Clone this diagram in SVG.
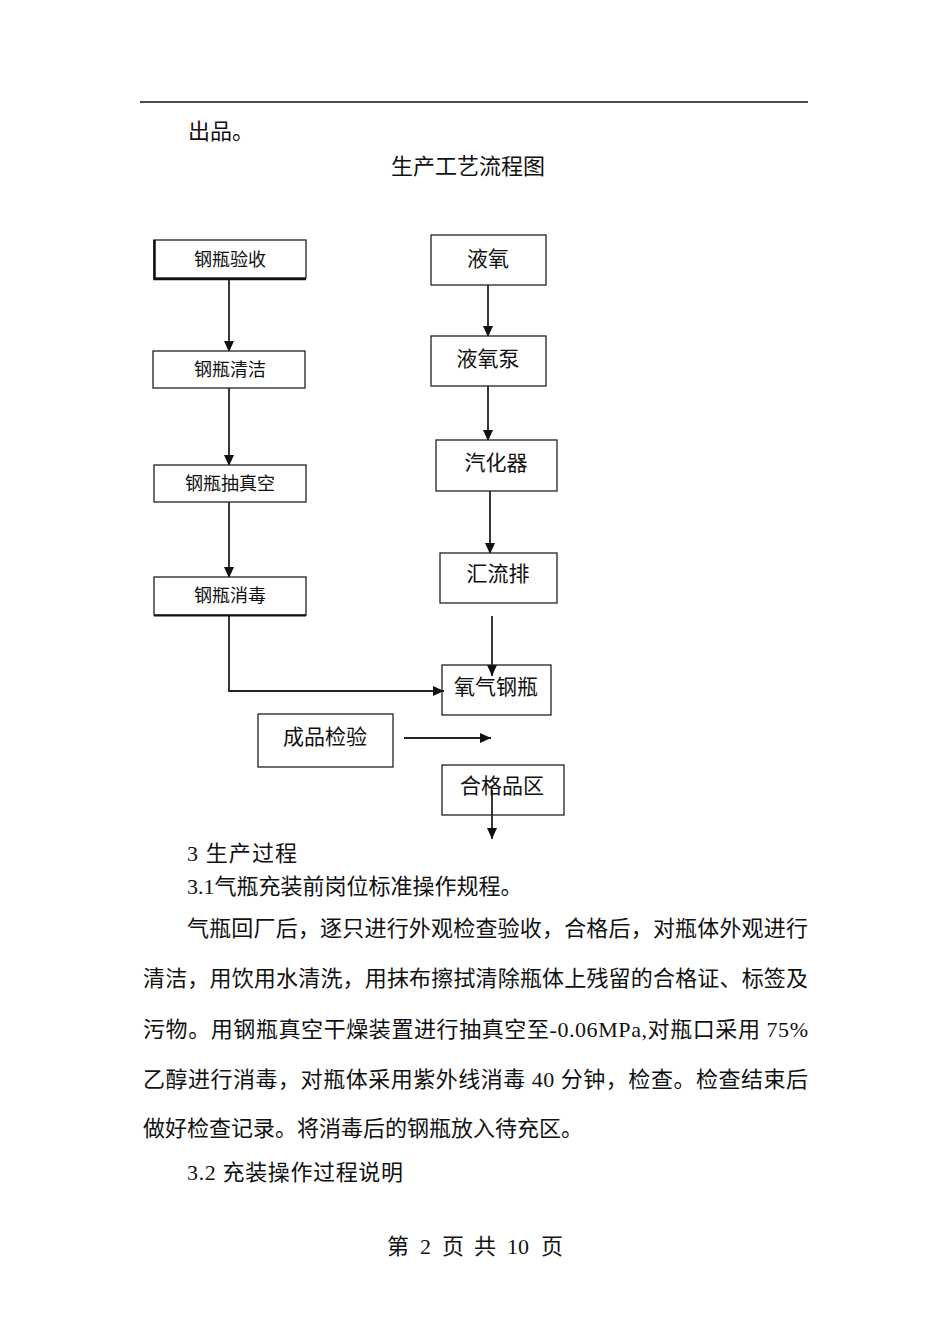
<svg xmlns="http://www.w3.org/2000/svg" width="950" height="1344" viewBox="0 0 950 1344">
<style>
.t{font-family:"Liberation Serif","Noto Sans CJK SC",serif;fill:#111;}
.body{font-size:22px;}
.bx{fill:#fff;stroke:#222;stroke-width:1.3;}
.lb{font-size:18px;text-anchor:middle;}
.rb{font-size:21px;text-anchor:middle;}
.cn{fill:none;stroke:#222;stroke-width:1.8;}
</style>
<defs>
<marker id="arr" markerUnits="userSpaceOnUse" markerWidth="11" markerHeight="12" refX="11" refY="5" orient="auto">
<path d="M0,0 L11,5 L0,10 Z" fill="#111"/>
</marker>
</defs>
<rect x="0" y="0" width="950" height="1344" fill="#fff"/>
<line x1="140" y1="102" x2="808" y2="102" stroke="#111" stroke-width="1.5"/>
<text class="t body" x="188" y="139">出品。</text>
<text class="t body" x="468" y="174" text-anchor="middle">生产工艺流程图</text>

<g id="connectors">
<path class="cn" d="M229,279 V352" marker-end="url(#arr)"/>
<path class="cn" d="M229,388 V466" marker-end="url(#arr)"/>
<path class="cn" d="M229,502 V578" marker-end="url(#arr)"/>
<path class="cn" d="M229,616 V691 H444" marker-end="url(#arr)"/>
<path class="cn" d="M488,285 V337" marker-end="url(#arr)"/>
<path class="cn" d="M488,386 V441" marker-end="url(#arr)"/>
<path class="cn" d="M490,491 V554" marker-end="url(#arr)"/>
<path class="cn" d="M492,616 V676" marker-end="url(#arr)"/>
<path class="cn" d="M404,738 H491" marker-end="url(#arr)"/>
<path class="cn" d="M492,790 V839" marker-end="url(#arr)"/>
</g>

<g id="n1">
<rect class="bx" x="154" y="240" width="152" height="38"/>
<path d="M154.5,240 V279 H306" fill="none" stroke="#111" stroke-width="2.5"/>
<text class="t lb" x="230" y="266">钢瓶验收</text>
</g>
<g id="n2">
<rect class="bx" x="153" y="351" width="152" height="37"/>
<text class="t lb" x="230" y="376">钢瓶清洁</text>
</g>
<g id="n3">
<rect class="bx" x="154" y="465" width="152" height="37"/>
<text class="t lb" x="230" y="490">钢瓶抽真空</text>
</g>
<g id="n4">
<rect class="bx" x="154" y="577" width="152" height="38"/>
<path d="M154,615.5 H306" fill="none" stroke="#111" stroke-width="2"/>
<text class="t lb" x="230" y="602">钢瓶消毒</text>
</g>
<g id="n5">
<rect class="bx" x="431" y="235" width="115" height="50"/>
<text class="t rb" x="488" y="266">液氧</text>
</g>
<g id="n6">
<rect class="bx" x="431" y="336" width="115" height="50"/>
<text class="t rb" x="488" y="366">液氧泵</text>
</g>
<g id="n7">
<rect class="bx" x="436" y="440" width="121" height="51"/>
<text class="t rb" x="496" y="470">汽化器</text>
</g>
<g id="n8">
<rect class="bx" x="440" y="553" width="117" height="50"/>
<text class="t rb" x="498" y="581">汇流排</text>
</g>
<g id="n9">
<rect class="bx" x="442" y="665" width="109" height="50" style="fill:none"/>
<text class="t rb" x="496" y="694">氧气钢瓶</text>
</g>
<g id="n10">
<rect class="bx" x="258" y="714" width="135" height="53"/>
<text class="t rb" x="325" y="744">成品检验</text>
</g>
<g id="n11">
<rect class="bx" x="442" y="765" width="122" height="50" style="fill:none"/>
<text class="t rb" x="502" y="793">合格品区</text>
</g>

<text class="t body" x="187" y="861" textLength="110" lengthAdjust="spacing">3 生产过程</text>
<text class="t body" x="187" y="894">3.1气瓶充装前岗位标准操作规程。</text>
<text class="t body" x="187" y="936" textLength="621" lengthAdjust="spacing">气瓶回厂后，逐只进行外观检查验收，合格后，对瓶体外观进行</text>
<text class="t body" x="143" y="986" textLength="665" lengthAdjust="spacing">清洁，用饮用水清洗，用抹布擦拭清除瓶体上残留的合格证、标签及</text>
<text class="t body" x="143" y="1037" textLength="665" lengthAdjust="spacing">污物。用钢瓶真空干燥装置进行抽真空至-0.06MPa,对瓶口采用 75%</text>
<text class="t body" x="143" y="1087" textLength="665" lengthAdjust="spacing">乙醇进行消毒，对瓶体采用紫外线消毒 40 分钟，检查。检查结束后</text>
<text class="t body" x="143" y="1136">做好检查记录。将消毒后的钢瓶放入待充区。</text>
<text class="t body" x="187" y="1180" textLength="216" lengthAdjust="spacing">3.2 充装操作过程说明</text>
<text class="t body" y="1254"><tspan x="387">第</tspan><tspan x="420">2</tspan><tspan x="442">页</tspan><tspan x="474">共</tspan><tspan x="507">10</tspan><tspan x="541">页</tspan></text>
</svg>
